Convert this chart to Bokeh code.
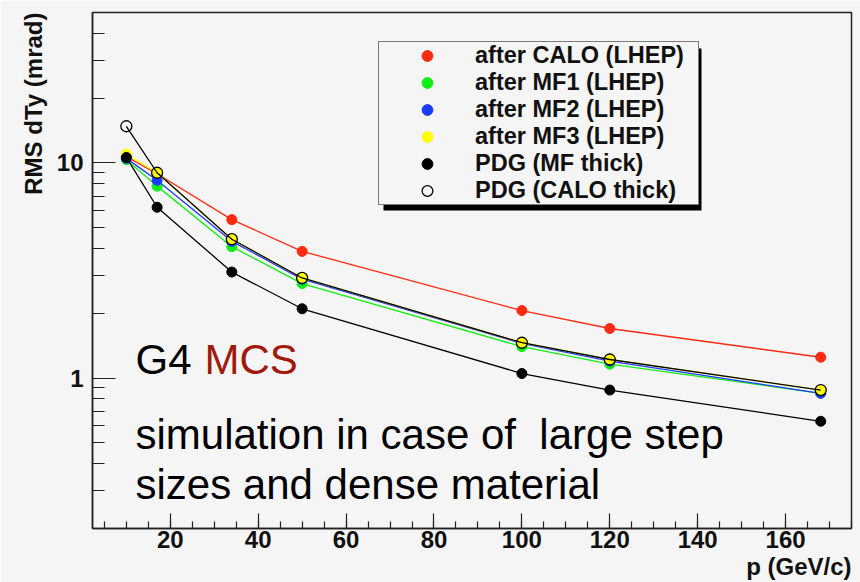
import math
from bokeh.plotting import figure
from bokeh.models import (Legend, LegendItem, Label, BoxAnnotation, FixedTicker,
                          SingleIntervalTicker, BasicTickFormatter, Title)
from bokeh.embed import file_html
from bokeh.resources import INLINE

# ---- data ----
p_gev = [10, 17, 34, 50, 100, 120, 168]
calo_lhep = [10.7, 8.9, 5.45, 3.88, 2.06, 1.70, 1.25]
mf1_lhep = [10.35, 7.8, 4.08, 2.75, 1.40, 1.16, 0.85]
mf2_lhep = [10.5, 8.3, 4.32, 2.88, 1.45, 1.20, 0.85]
mf3_lhep = [11.0, 9.0, 4.42, 2.92, 1.46, 1.22, 0.88]
pdg_mf = [10.6, 6.22, 3.11, 2.10, 1.05, 0.88, 0.63]
pdg_calo = [14.8, 9.0, 4.42, 2.92, 1.46, 1.22, 0.88]

series_names = ["after CALO (LHEP)", "after MF1 (LHEP)", "after MF2 (LHEP)",
                "after MF3 (LHEP)", "PDG (MF thick)", "PDG (CALO thick)"]
series_colors = ["#ff2a10", "#11ee11", "#1a3cff", "#ffff00", "#000000", "#000000"]

x_ticks_interval = 20
y_major_ticks = [1, 10]
y_minor_ticks = [0.2, 0.3, 0.4, 0.5, 0.6, 0.7, 0.8, 0.9,
                 2, 3, 4, 5, 6, 7, 8, 9, 20, 30, 40]

BG = "#f5f5f5"
AX = "#222222"
FONT = "Liberation Sans"

p = figure(width=860, height=582, x_range=(2.3, 175), y_range=(0.2, 50),
           y_axis_type="log", output_backend="svg", toolbar_location=None,
           min_border_left=92, min_border_right=9, min_border_top=12,
           min_border_bottom=54, background_fill_color=BG, border_fill_color=BG,
           outline_line_color=AX, outline_line_width=1.5)
p.xgrid.visible = False
p.ygrid.visible = False

# axes
p.xaxis.ticker = SingleIntervalTicker(interval=x_ticks_interval, num_minor_ticks=4)
p.yaxis.ticker = FixedTicker(ticks=y_major_ticks, minor_ticks=y_minor_ticks)
p.yaxis.formatter = BasicTickFormatter()
for ax in (p.xaxis[0], p.yaxis[0]):
    ax.axis_line_color = AX
    ax.axis_line_width = 1.5
    ax.major_tick_line_color = AX
    ax.minor_tick_line_color = AX
    ax.major_tick_line_width = 1.2
    ax.minor_tick_line_width = 1.2
    ax.major_tick_out = 0
    ax.minor_tick_out = 0
    ax.major_label_text_font = FONT
    ax.major_label_text_font_style = "bold"
    ax.major_label_text_font_size = "24px"
    ax.major_label_text_color = "#111111"
p.xaxis.major_tick_in = 15
p.xaxis.minor_tick_in = 7
p.yaxis.major_tick_in = 23
p.yaxis.minor_tick_in = 12
p.xaxis.major_label_standoff = 2
p.yaxis.major_label_standoff = 9

# axis titles as side-panel titles (right / top aligned)
tstyle = dict(text_font=FONT, text_font_style="bold", text_font_size="24px",
              text_color="#111111", align="right")
p.add_layout(Title(text="p (GeV/c)", standoff=0, **tstyle), "below")
p.add_layout(Title(text="RMS dTy (mrad)", standoff=14, **tstyle), "left")

# series
ys = [calo_lhep, mf1_lhep, mf2_lhep, mf3_lhep, pdg_mf, pdg_calo]
marker_renderers = []
for i, (y, c) in enumerate(zip(ys, series_colors)):
    p.line(p_gev, y, line_color=c, line_width=1.3)
    if i == 5:
        r = p.scatter(p_gev, y, marker="circle", size=11, fill_alpha=0,
                      line_color=c, line_width=1.3)
    else:
        r = p.scatter(p_gev, y, marker="circle", size=10, fill_color=c,
                      line_color=c)
    marker_renderers.append(r)

# legend shadow + legend
leg_x, leg_y, leg_w, leg_h = 286, 323, 319, 162
shadow = BoxAnnotation(left=leg_x + 5, right=leg_x + leg_w + 4,
                       bottom=leg_y - 5, top=leg_y + leg_h - 5,
                       left_units="screen", right_units="screen",
                       bottom_units="screen", top_units="screen",
                       fill_color="black", fill_alpha=1, line_color=None)
p.add_layout(shadow)

legend = Legend(items=[LegendItem(label=n, renderers=[r])
                       for n, r in zip(series_names, marker_renderers)],
                location=(leg_x, leg_y), orientation="vertical",
                glyph_width=96, glyph_height=27, label_height=27, label_width=223,
                label_standoff=0, spacing=0, padding=0, margin=0,
                label_text_font=FONT, label_text_font_size="23.5px",
                label_text_font_style="bold", label_text_color="#111111",
                border_line_color="black", border_line_width=1.5,
                background_fill_color=BG, background_fill_alpha=1)
p.add_layout(legend)

# annotation texts
big = dict(x_units="screen", y_units="screen", text_baseline="alphabetic",
           text_font=FONT, text_font_size="42px")
p.add_layout(Label(x=43, y=169, text="G4", text_color="black", **big))
p.add_layout(Label(x=112, y=169, text="MCS", text_color="#a0190a", **big))
p.add_layout(Label(x=43, y=94, text="simulation in case of \u00a0large step",
                   text_color="black", **big))
p.add_layout(Label(x=43, y=44, text="sizes and dense material",
                   text_color="black", **big))

open("out.html", "w").write(file_html(p, INLINE))
